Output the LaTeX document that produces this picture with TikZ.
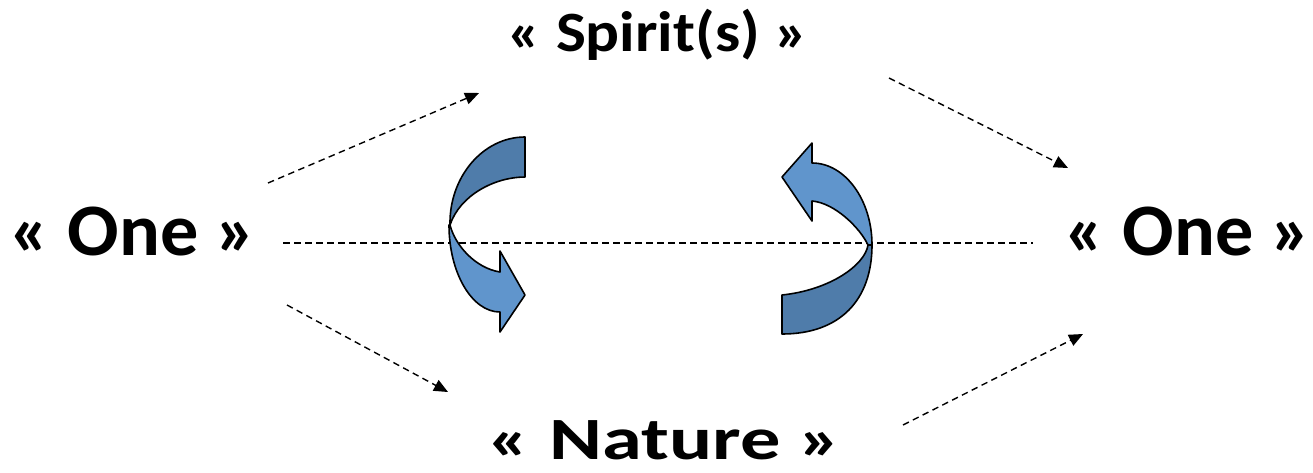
\documentclass[tikz,border=0pt]{standalone}
\usepackage{graphicx}
\usepackage{fontspec}
\setmainfont{Carlito}
\usetikzlibrary{arrows.meta}
\definecolor{ribdark}{RGB}{79,124,170}
\definecolor{riblight}{RGB}{96,149,204}
\tikzset{
  lbl/.style={anchor=base, inner sep=0pt},
  dashln/.style={line width=1.4pt, dash pattern=on 6.5pt off 4.5pt},
  dasharr/.style={dashln, -{Triangle[length=14pt,width=12pt]}},
  ribbon/.style={draw=black, line width=1.6pt, line join=round},
}
\begin{document}
\begin{tikzpicture}[x=1pt,y=-1pt]
\useasboundingbox (0,0) rectangle (1313,472);
% texts
\node[lbl] (oneL) at (133,255) {\scalebox{1.03}[1]{\fontsize{74}{80}\selectfont\bfseries « One »}};
\node[lbl] (oneR) at (1188,255) {\scalebox{1.03}[1]{\fontsize{74}{80}\selectfont\bfseries « One »}};
\node[lbl] (spirit) at (658,51) {\scalebox{1.11}[1]{\fontsize{57}{62}\selectfont\bfseries « Spirit(s) »}};
\node[lbl] (nature) at (665,459) {\scalebox{1.34}[1]{\fontsize{60}{64}\selectfont\bfseries « Nature »}};
% connector end points
\coordinate (h1) at (283,243);
\coordinate (h2) at (1033,243);
\coordinate (ul1) at (268,183);
\coordinate (ul2) at (479,93);
\coordinate (ur1) at (889,78);
\coordinate (ur2) at (1068,168);
\coordinate (ll1) at (287,305);
\coordinate (ll2) at (448,392);
\coordinate (lr1) at (903,425);
\coordinate (lr2) at (1083,334);
% dashed lines
\draw[dashln] (h1) -- (h2);
\draw[dasharr] (ul1) -- (ul2);
\draw[dasharr] (ur1) -- (ur2);
\draw[dasharr] (ll1) -- (ll2);
\draw[dasharr] (lr1) -- (lr2);
% left curved arrow
\fill[ribdark, ribbon] (525,137) .. controls (483,137) and (449,177) .. (450,225)
  .. controls (460,195) and (495,177) .. (525,177) -- cycle;
\fill[riblight, ribbon] (450,225) .. controls (455,245) and (475,268) .. (500,272)
  -- (500,251) -- (525,295) -- (500,332) -- (500,312)
  .. controls (472,312) and (449,273) .. (449,225) -- cycle;
% right curved arrow
\fill[riblight, ribbon] (782,177) -- (812,143) -- (812,163)
  .. controls (845,163) and (872,200) .. (872,245) -- (868,245)
  .. controls (860,228) and (835,203) .. (812,201) -- (812,221) -- cycle;
\fill[ribdark, ribbon] (868,245) -- (872,245) .. controls (872,300) and (840,334) .. (782,334)
  -- (782,295) .. controls (830,290) and (865,265) .. (868,245) -- cycle;
\end{tikzpicture}
\end{document}
